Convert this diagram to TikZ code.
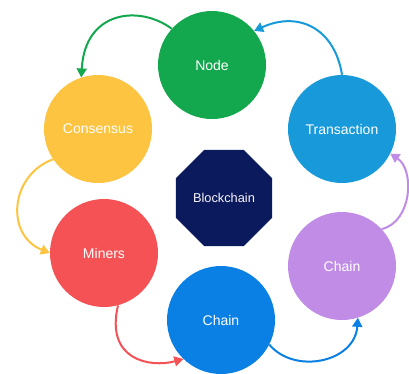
\documentclass[tikz,border=0pt]{standalone}
\usepackage{fontspec}
\setmainfont{Liberation Sans}
\usetikzlibrary{shapes.geometric,arrows.meta}
\definecolor{cgreen}{RGB}{20,168,78}
\definecolor{cyellow}{RGB}{252,196,64}
\definecolor{cred}{RGB}{244,82,84}
\definecolor{cblue}{RGB}{10,128,228}
\definecolor{ctrans}{RGB}{24,154,218}
\definecolor{cpurple}{RGB}{192,140,230}
\definecolor{cnavy}{RGB}{10,26,92}
\begin{document}
\begin{tikzpicture}[x=1pt,y=-1pt,
  stage/.style={circle,minimum size=108pt,inner sep=0pt,text=white,font=\fontsize{14}{16}\selectfont},
  flow/.style={line width=2pt,-{Triangle[length=9pt,width=10pt]}}]
\fill[white] (0,0) rectangle (409,373);
\useasboundingbox (0,0) rectangle (409,373);
\node[stage,fill=cgreen] (node) at (212,65) {Node};
\node[stage,fill=cyellow] (cons) at (98,129) {Consensus};
\node[stage,fill=ctrans] (trans) at (342,129) {Transaction};
\node[stage,fill=cred] (miners) at (104,253) {Miners};
\node[stage,fill=cblue] (chainb) at (221,320) {Chain};
\node[stage,fill=cpurple] (chainp) at (342,266) {Chain};
\node[regular polygon,regular polygon sides=8,minimum size=104pt,inner sep=0pt,fill=cnavy,text=white!90!cpurple,font=\fontsize{12.8}{15}\selectfont] (bc) at (224,198) {Blockchain};
\draw[flow,cgreen] (node.138) .. controls (140,5) and (85,10) .. (cons.108);
\draw[flow,cyellow] (cons.214) .. controls (10,175) and (5,235) .. (miners.180);
\draw[flow,cred] (miners.285) .. controls (105,360) and (150,368) .. (chainb.226);
\draw[flow,cblue] (chainb.333) .. controls (295,375) and (355,362) .. (chainp.287);
\draw[flow,cpurple] (chainp.43) .. controls (412,222) and (415,170) .. (trans.333);
\draw[flow,ctrans] (trans.90) .. controls (335,30) and (300,10) .. (node.39);
\end{tikzpicture}
\end{document}
